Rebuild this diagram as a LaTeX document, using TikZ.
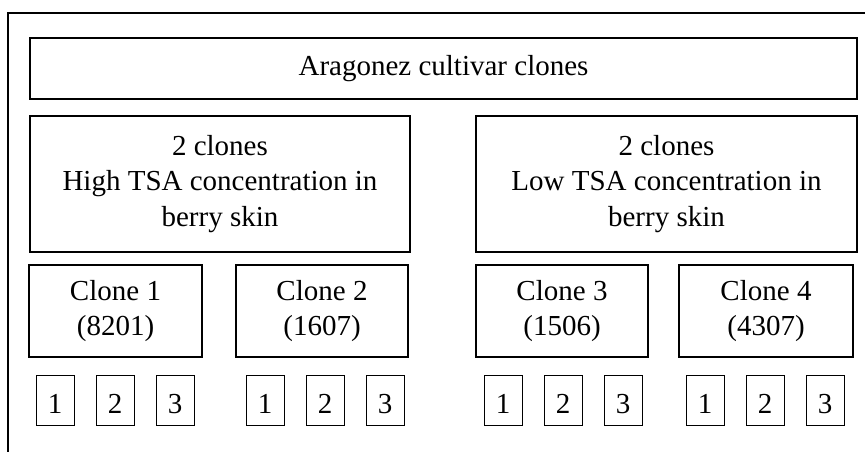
\documentclass[tikz,border=0pt]{standalone}
\usepackage{fontspec}
\setmainfont{Liberation Serif}
\begin{document}
\begin{tikzpicture}[x=1pt,y=-1pt,
  box/.style={draw=black,line width=1.3pt,rectangle,inner sep=0pt,align=center,
    font=\fontsize{29}{35.5}\selectfont},
  repbox/.style={draw=black,line width=0.9pt,rectangle,inner sep=0pt,
    minimum width=38pt,minimum height=50pt,text height=26pt,text depth=0pt,
    font=\fontsize{29}{35.5}\selectfont},
  frame/.style={line width=1.3pt}]
\useasboundingbox (0,0) rectangle (865,452);
% open outer frame
\coordinate (fbl) at (8,452);
\coordinate (ftl) at (8,13);
\coordinate (ftr) at (865,13);
\draw[frame] (fbl) -- (ftl) -- (ftr);
% cultivar
\node[box,minimum width=827pt,minimum height=61pt] (top) at (443.5,68.5) {Aragonez cultivar clones};
% groups
\node[box,minimum width=380pt,minimum height=136pt] (hi) at (220,184) {2 clones\\High TSA concentration in\\berry skin};
\node[box,minimum width=381pt,minimum height=136pt] (lo) at (666.5,184) {2 clones\\Low TSA concentration in\\berry skin};
% clones
\node[box,minimum width=173pt,minimum height=92pt] (c1) at (115.5,311) {Clone 1\\(8201)};
\node[box,minimum width=172pt,minimum height=92pt] (c2) at (322,311) {Clone 2\\(1607)};
\node[box,minimum width=172pt,minimum height=92pt] (c3) at (562,311) {Clone 3\\(1506)};
\node[box,minimum width=174pt,minimum height=92pt] (c4) at (766,311) {Clone 4\\(4307)};
% replicates
\foreach \c/\x in {1/36,2/246,3/484,4/686}{
  \foreach \r in {1,2,3}{
    \node[repbox] (r\c\r) at ({\x+19+(\r-1)*60},400) {\r};
  }
}
\end{tikzpicture}
\end{document}
